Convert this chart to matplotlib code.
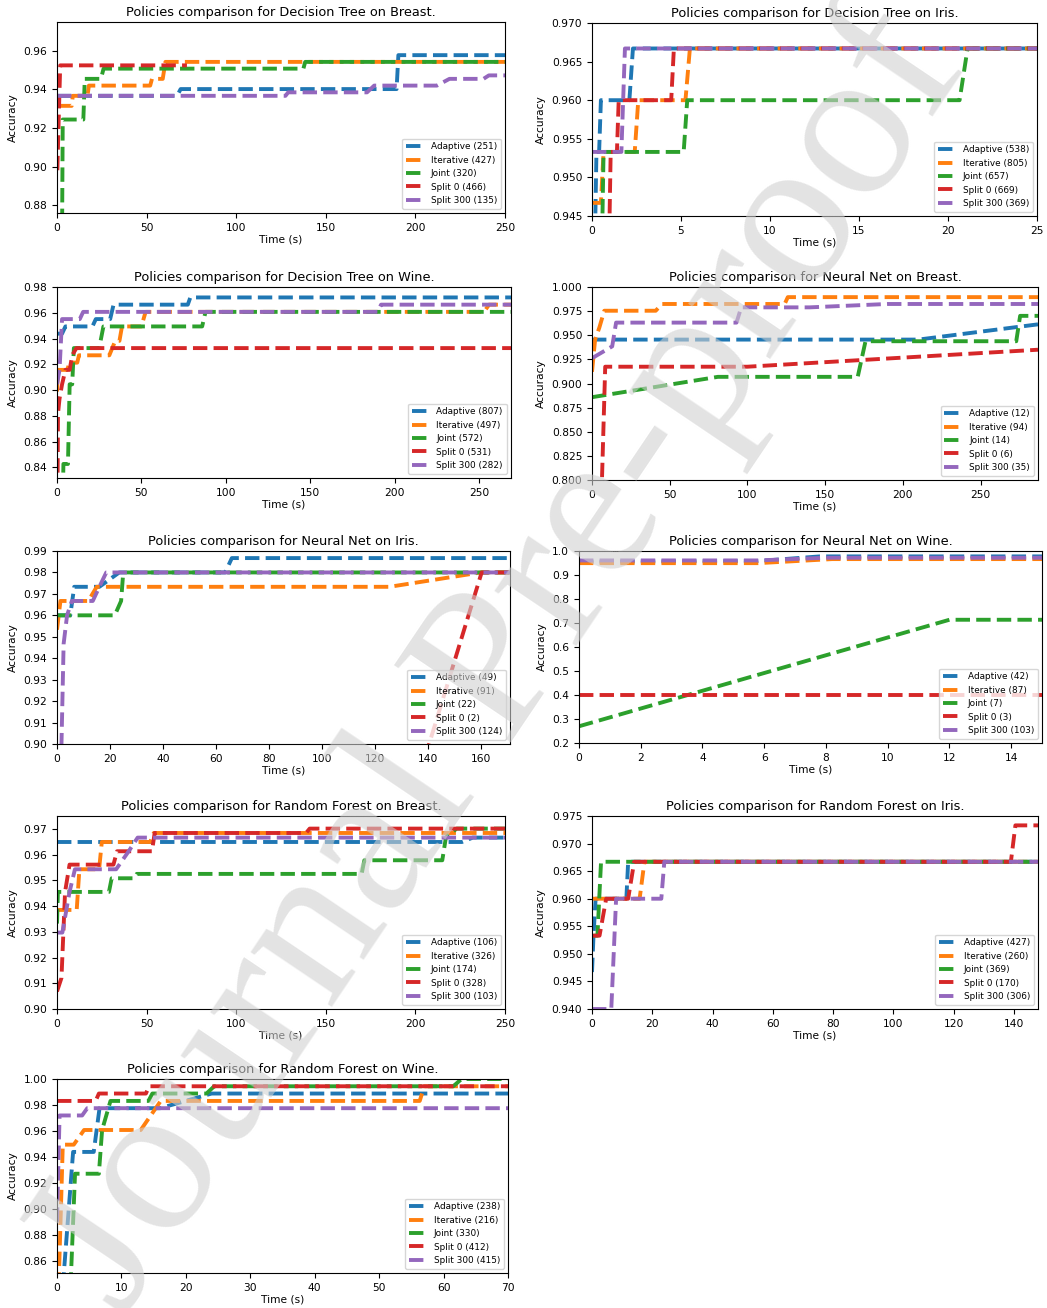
import matplotlib
matplotlib.use("Agg")
import matplotlib.pyplot as plt
from matplotlib.ticker import MultipleLocator

POLICIES = ["Adaptive", "Iterative", "Joint", "Split 0", "Split 300"]
COLORS = ["tab:blue", "tab:orange", "tab:green", "tab:red", "tab:purple"]

# ---- Decision Tree on Breast ----
DT_BREAST_COUNTS = [251, 427, 320, 466, 135]
DT_BREAST_T = [
    [0, 67, 69, 189.5, 190.5, 250],
    [0.3, 8.2, 8.8, 17.0, 17.8, 52.0, 53.0, 59.0, 60.5, 250],
    [2.8, 3.2, 14.7, 15.5, 24.5, 26.0, 137.5, 138.5, 250],
    [0.2, 1.0, 1.8, 72.5],
    [0, 127.5, 129, 173, 177, 212, 219, 238, 241, 250],
]
DT_BREAST_ACC = [
    [0.9367, 0.9367, 0.9402, 0.9402, 0.9578, 0.9578],
    [0.9315, 0.9315, 0.9367, 0.9367, 0.9420, 0.9420, 0.9455, 0.9455, 0.9543, 0.9543],
    [0.86, 0.9244, 0.9244, 0.9455, 0.9455, 0.9508, 0.9508, 0.9543, 0.9543],
    [0.8981, 0.9262, 0.9525, 0.9525],
    [0.9367, 0.9367, 0.9385, 0.9385, 0.9420, 0.9420, 0.9455, 0.9455, 0.9473, 0.9473],
]

# ---- Decision Tree on Iris ----
DT_IRIS_COUNTS = [538, 805, 657, 669, 369]
DT_IRIS_T = [
    [0.15, 0.25, 0.4, 0.5, 2.1, 2.3, 25],
    [0, 0.5, 0.65, 2.4, 2.6, 5.25, 5.5, 25],
    [0.55, 0.65, 5.15, 5.35, 20.65, 21.1, 25],
    [0.95, 1.05, 1.4, 1.5, 4.45, 4.6, 25],
    [0, 1.65, 1.85, 25],
]
DT_IRIS_ACC = [
    [0.94, 0.9533, 0.9533, 0.96, 0.96, 0.9667, 0.9667],
    [0.9467, 0.9467, 0.9533, 0.9533, 0.96, 0.96, 0.9667, 0.9667],
    [0.94, 0.9533, 0.9533, 0.96, 0.96, 0.9667, 0.9667],
    [0.94, 0.9533, 0.9533, 0.96, 0.96, 0.9667, 0.9667],
    [0.9533, 0.9533, 0.9667, 0.9667],
]

# ---- Decision Tree on Wine ----
DT_WINE_COUNTS = [807, 497, 572, 531, 282]
DT_WINE_T = [
    [0, 3, 5, 21, 23, 31.5, 33.5, 77.5, 79, 269],
    [0, 0.6, 6, 7.5, 12, 13, 31, 34.5, 37, 38.5, 50, 52.5, 253, 256, 269],
    [3.5, 3.8, 6.5, 7.5, 9, 10, 25, 27.5, 86, 88, 269],
    [0.3, 0.6, 1.5, 3, 5, 7.5, 9, 11.5, 269],
    [0, 1.5, 3, 13.5, 15.5, 190, 192, 269],
]
DT_WINE_ACC = [
    [0.9438, 0.9438, 0.9494, 0.9494, 0.9551, 0.9551, 0.9663, 0.9663, 0.9719, 0.9719],
    [0.8989, 0.9157, 0.9157, 0.9213, 0.9213, 0.9270, 0.9270, 0.9382, 0.9382, 0.9494,
     0.9494, 0.9607, 0.9607, 0.9663, 0.9663],
    [0.82, 0.8427, 0.8427, 0.9045, 0.9045, 0.9326, 0.9326, 0.9494, 0.9494, 0.9607, 0.9607],
    [0.82, 0.882, 0.8933, 0.9045, 0.9157, 0.9157, 0.9270, 0.9326, 0.9326],
    [0.9045, 0.9157, 0.9551, 0.9551, 0.9607, 0.9607, 0.9663, 0.9663],
]

# ---- Neural Net on Breast ----
NN_BREAST_COUNTS = [12, 94, 14, 6, 35]
NN_BREAST_T = [
    [0, 210, 287],
    [0, 2, 4.7, 7.9, 41, 45, 124, 126, 287],
    [0, 81, 171, 176, 273, 275.5, 287],
    [0, 8.5, 100, 287],
    [0, 13, 15.5, 93, 96, 140, 190, 287],
]
NN_BREAST_ACC = [
    [0.9455, 0.9455, 0.9613],
    [0.9121, 0.9455, 0.9578, 0.9754, 0.9754, 0.9824, 0.9824, 0.9895, 0.9895],
    [0.8858, 0.9069, 0.9069, 0.9438, 0.9438, 0.9701, 0.9701],
    [0.44, 0.9174, 0.9174, 0.9350],
    [0.9262, 0.9385, 0.9631, 0.9631, 0.9789, 0.9789, 0.9824, 0.9824],
]

# ---- Neural Net on Iris ----
NN_IRIS_COUNTS = [49, 91, 22, 2, 124]
NN_IRIS_T = [
    [0, 5, 6.5, 16, 23.5, 63.5, 66, 171],
    [0, 1.3, 11.8, 15, 125.5, 160, 171],
    [0, 21.8, 24.2, 25, 171],
    [0, 160.3, 171],
    [1.0, 2.5, 3.8, 5.6, 13.5, 16, 18.6, 171],
]
NN_IRIS_ACC = [
    [0.96, 0.96, 0.9733, 0.9733, 0.98, 0.98, 0.9867, 0.9867],
    [0.9533, 0.9667, 0.9667, 0.9733, 0.9733, 0.98, 0.98],
    [0.96, 0.96, 0.9667, 0.98, 0.98],
    [0.3333, 0.98, 0.98],
    [0.86, 0.9467, 0.96, 0.9667, 0.9667, 0.9733, 0.98, 0.98],
]

# ---- Neural Net on Wine ----
NN_WINE_COUNTS = [42, 87, 7, 3, 103]
NN_WINE_T = [
    [0, 5.8, 7.8, 15],
    [0, 5.8, 8.2, 15],
    [0, 12, 15],
    [0, 15],
    [0, 5.8, 8.0, 15],
]
NN_WINE_ACC = [
    [0.9551, 0.958, 0.9775, 0.9775],
    [0.9494, 0.9494, 0.9663, 0.9663],
    [0.2697, 0.7135, 0.7135],
    [0.3989, 0.3989],
    [0.9607, 0.9607, 0.9719, 0.9719],
]

# ---- Random Forest on Breast ----
RF_BREAST_COUNTS = [106, 326, 174, 328, 103]
RF_BREAST_T = [
    [0, 226, 232, 250],
    [0, 11, 12.5, 23.5, 25, 52, 54, 250],
    [0, 0.5, 29, 30.5, 43, 44.5, 170, 171.5, 215, 217, 223, 250],
    [0, 2.5, 4.5, 7, 31.5, 33.5, 53, 54.5, 139, 141, 250],
    [0, 3, 7, 10, 33, 40, 45, 250],
]
RF_BREAST_ACC = [
    [0.9649, 0.9649, 0.9666, 0.9666],
    [0.9385, 0.9385, 0.9543, 0.9543, 0.9649, 0.9649, 0.9684, 0.9684],
    [0.9332, 0.9455, 0.9455, 0.9508, 0.9508, 0.9525, 0.9525, 0.9578, 0.9578, 0.9666, 0.9701, 0.9701],
    [0.9068, 0.9121, 0.9455, 0.9561, 0.9561, 0.9613, 0.9613, 0.9684, 0.9684, 0.9701, 0.9701],
    [0.9297, 0.9297, 0.9455, 0.9543, 0.9543, 0.9613, 0.9666, 0.9666],
]

# ---- Random Forest on Iris ----
RF_IRIS_COUNTS = [427, 260, 369, 170, 306]
RF_IRIS_T = [
    [0, 0.5, 1.2, 11.4, 12, 148],
    [0, 15.8, 17.4, 148],
    [0.5, 1.8, 3, 148],
    [0, 2.5, 4.7, 12, 14, 139, 140.5, 148],
    [0, 6.4, 8, 23, 24, 148],
]
RF_IRIS_ACC = [
    [0.9467, 0.9533, 0.96, 0.96, 0.9667, 0.9667],
    [0.96, 0.96, 0.9667, 0.9667],
    [0.9533, 0.9533, 0.9667, 0.9667],
    [0.9533, 0.9533, 0.96, 0.96, 0.9667, 0.9667, 0.9733, 0.9733],
    [0.94, 0.94, 0.96, 0.96, 0.9667, 0.9667],
]

# ---- Random Forest on Wine ----
RF_WINE_COUNTS = [238, 216, 330, 412, 415]
RF_WINE_T = [
    [0.9, 2.5, 5.7, 6.6, 16, 24, 70],
    [0.25, 0.9, 2.6, 4.2, 13, 16.1, 56.3, 57, 70],
    [2.1, 2.8, 6.5, 7.0, 8.3, 14.2, 14.8, 23.2, 24.4, 61.5, 62.8, 70],
    [0, 6.0, 6.5, 13.8, 14.3, 70],
    [0, 0.4, 3.9, 4.7, 70],
]
RF_WINE_ACC = [
    [0.84, 0.9438, 0.9438, 0.9775, 0.9775, 0.9888, 0.9888],
    [0.84, 0.9494, 0.9494, 0.9607, 0.9607, 0.9831, 0.9831, 0.9944, 0.9944],
    [0.84, 0.9270, 0.9270, 0.9607, 0.9831, 0.9831, 0.9888, 0.9888, 0.9944, 0.9944, 1.0, 1.0],
    [0.9831, 0.9831, 0.9888, 0.9888, 0.9944, 0.9944],
    [0.89, 0.9719, 0.9719, 0.9775, 0.9775],
]

# (model, dataset, times, accs, counts, ylim, xstep, ystep, pixel box l,t,r,b)
PANELS = [
    ("Decision Tree", "Breast", DT_BREAST_T, DT_BREAST_ACC, DT_BREAST_COUNTS,
     (0.8759, 0.975), 50, 0.02, (57, 22, 505, 213)),
    ("Decision Tree", "Iris", DT_IRIS_T, DT_IRIS_ACC, DT_IRIS_COUNTS,
     (0.945, 0.970), 5, 0.005, (592, 23, 1037, 216)),
    ("Decision Tree", "Wine", DT_WINE_T, DT_WINE_ACC, DT_WINE_COUNTS,
     (0.8318, 0.98), 50, 0.02, (57, 287, 511, 478)),
    ("Neural Net", "Breast", NN_BREAST_T, NN_BREAST_ACC, NN_BREAST_COUNTS,
     (0.8, 1.0), 50, 0.025, (592, 287, 1038, 480)),
    ("Neural Net", "Iris", NN_IRIS_T, NN_IRIS_ACC, NN_IRIS_COUNTS,
     (0.90, 0.99), 20, 0.01, (57, 551, 510, 744)),
    ("Neural Net", "Wine", NN_WINE_T, NN_WINE_ACC, NN_WINE_COUNTS,
     (0.2, 1.0), 2, 0.1, (579, 551, 1042, 743)),
    ("Random Forest", "Breast", RF_BREAST_T, RF_BREAST_ACC, RF_BREAST_COUNTS,
     (0.90, 0.975), 50, 0.01, (57, 816, 505, 1009)),
    ("Random Forest", "Iris", RF_IRIS_T, RF_IRIS_ACC, RF_IRIS_COUNTS,
     (0.94, 0.975), 20, 0.005, (592, 816, 1038, 1009)),
    ("Random Forest", "Wine", RF_WINE_T, RF_WINE_ACC, RF_WINE_COUNTS,
     (0.8505, 1.0), 10, 0.02, (57, 1079, 508, 1273)),
]

W, H = 1047, 1308
plt.rcParams["font.size"] = 7.7
plt.rcParams["legend.fontsize"] = "small"
plt.rcParams["axes.titlesize"] = "large"

fig = plt.figure(figsize=(W / 100, H / 100), dpi=100)

for model, data, times, accs, counts, ylim, xstep, ystep, box in PANELS:
    l, t, r, b = box
    ax = fig.add_axes([l / W, 1 - b / H, (r - l) / W, (b - t) / H])
    for name, color, ts, ys, n in zip(POLICIES, COLORS, times, accs, counts):
        ax.plot(ts, ys, "--", color=color, lw=2.8, label=f"{name} ({n})")
    ax.set_xlim(0, max(ts[-1] for ts in times))
    ax.set_ylim(*ylim)
    ax.xaxis.set_major_locator(MultipleLocator(xstep))
    ax.yaxis.set_major_locator(MultipleLocator(ystep))
    ax.set_xlabel("Time (s)", labelpad=1)
    ax.set_ylabel("Accuracy")
    ax.set_title(f"Policies comparison for {model} on {data}.", pad=4)
    ax.legend(loc="lower right")

# journal watermark
fig.text(0.48, 0.494, "Journal Pre-proof", rotation=56, fontsize=155,
         family="Liberation Serif", color="0.82", alpha=0.6,
         ha="center", va="center", zorder=100)

fig.savefig("out.png", dpi=100)
